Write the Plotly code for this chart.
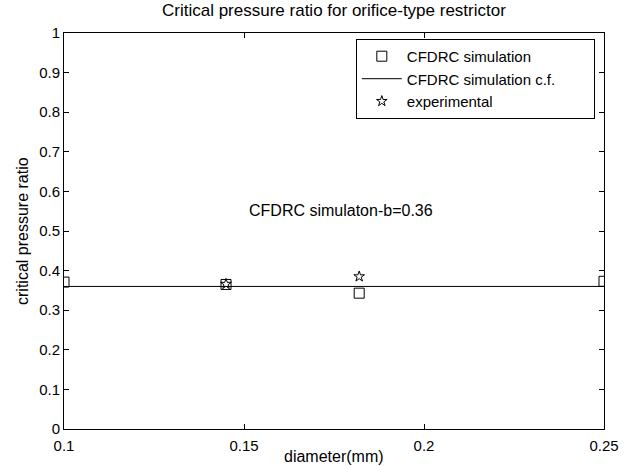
import plotly.graph_objects as go

sim_x = [0.1, 0.145, 0.182, 0.25]
sim_y = [0.371, 0.365, 0.343, 0.373]
fit_x = [0.1, 0.25]
fit_y = [0.36, 0.36]
exp_x = [0.145, 0.182]
exp_y = [0.366, 0.385]

x_ticks = [0.1, 0.15, 0.2, 0.25]
y_ticks = [0, 0.1, 0.2, 0.3, 0.4, 0.5, 0.6, 0.7, 0.8, 0.9, 1]

font = "Liberation Sans, Arial, sans-serif"
NB = "\u00a0"

fig = go.Figure()
fig.add_trace(go.Scatter(x=sim_x, y=sim_y, mode="markers", name="CFDRC simulation",
                         marker=dict(symbol="square-open", size=10, color="black", line=dict(width=1))))
fig.add_trace(go.Scatter(x=fit_x, y=fit_y, mode="lines", name="CFDRC simulation c.f." + NB * 8,
                         line=dict(color="black", width=1)))
fig.add_trace(go.Scatter(x=exp_x, y=exp_y, mode="markers", name="experimental",
                         marker=dict(symbol="star-open", size=8, color="black", line=dict(width=1))))

fig.update_layout(
    width=631, height=466,
    margin=dict(l=64, r=25, t=33, b=32),
    paper_bgcolor="white", plot_bgcolor="white",
    font=dict(family=font, size=15, color="black"),
    showlegend=True,
    legend=dict(x=0.983, y=0.985, xanchor="right", yanchor="top",
                bordercolor="black", borderwidth=1, bgcolor="white",
                font=dict(size=15), itemwidth=40, tracegroupgap=0),
    annotations=[
        dict(text="Critical pressure ratio for orifice-type restrictor", x=0.5, y=1, xref="paper", yref="paper",
             yshift=11, showarrow=False, font=dict(size=17), yanchor="bottom"),
        dict(text="diameter(mm)", x=0.5, y=0, xref="paper", yref="paper", yshift=-17,
             showarrow=False, yanchor="top", font=dict(size=16)),
        dict(text="critical pressure ratio", x=0, y=0.5, xref="paper", yref="paper", xshift=-42,
             xanchor="center", showarrow=False, textangle=-90, font=dict(size=16)),
        dict(text="CFDRC simulaton-b=0.36", x=0.177, y=0.553, xref="x", yref="y",
             showarrow=False, font=dict(size=16)),
    ],
)
fig.update_xaxes(range=[0.1, 0.25], tickvals=x_ticks, ticktext=["0.1", "0.15", "0.2", "0.25"],
                 showgrid=False, zeroline=False, showline=True, linecolor="black", linewidth=1,
                 mirror="ticks", ticks="inside", ticklen=5, tickcolor="black",
                 tickfont=dict(size=15), ticklabelstandoff=3)
fig.update_yaxes(range=[0, 1], tickvals=y_ticks, ticktext=[str(v) for v in y_ticks],
                 showgrid=False, zeroline=False, showline=True, linecolor="black", linewidth=1,
                 mirror="ticks", ticks="inside", ticklen=5, tickcolor="black",
                 tickfont=dict(size=15))

fig.write_html("out.html", config={"displayModeBar": False},
               post_script="document.body.style.margin='0';document.body.style.overflow='hidden';")
